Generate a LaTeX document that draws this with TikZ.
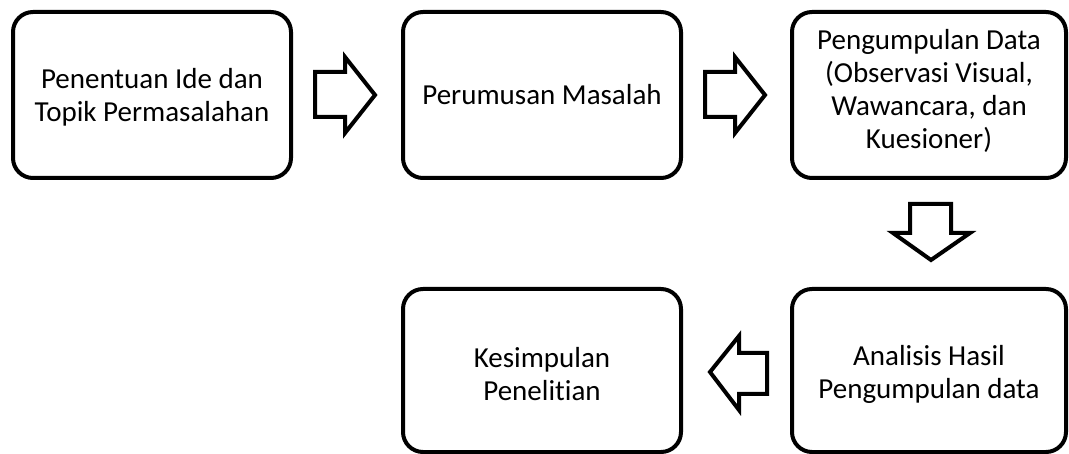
\documentclass[tikz,border=0pt]{standalone}
\usepackage{fontspec}
\setmainfont[Ligatures=NoCommon]{Carlito}
\begin{document}
\begin{tikzpicture}[x=1pt,y=-1pt,
  box/.style={draw=black, line width=4pt, rounded corners=20pt},
  blk/.style={draw=black, line width=4pt, fill=white, line join=miter},
  lbl/.style={align=center, font=\fontsize{29}{33}\selectfont, inner sep=0pt}]
\useasboundingbox (0,0) rectangle (1069,454);
% boxes
\draw[box] (13,12) rectangle (291,178);
\draw[box] (403,12) rectangle (681,178);
\draw[box] (792,12) rectangle (1066,178);
\draw[box] (792,289) rectangle (1066,452);
\draw[box] (403,289) rectangle (681,452);
% labels
\node[lbl] (b1) at (152,97) {Penentuan Ide dan\\Topik Permasalahan};
\node[lbl] (b2) at (542,95) {Perumusan Masalah};
\node[lbl] (b3) at (929,91) {Pengumpulan Data\\(Observasi Visual,\\Wawancara, dan\\Kuesioner)};
\node[lbl] (b4) at (929,374) {Analisis Hasil\\Pengumpulan data};
\node[lbl] (b5) at (542,374) {Kesimpulan\\Penelitian};
% block arrows
\draw[blk] (315,72) -- (345,72) -- (345,57) -- (375,95) -- (345,133) -- (345,117) -- (315,117) -- cycle;
\draw[blk] (705,72) -- (735,72) -- (735,57) -- (765,95) -- (735,133) -- (735,117) -- (705,117) -- cycle;
\draw[blk] (910,204) -- (951,204) -- (951,233) -- (970,233) -- (931,260) -- (893,233) -- (910,233) -- cycle;
\draw[blk] (767,353) -- (739,353) -- (739,336) -- (710,372) -- (739,410) -- (739,394) -- (767,394) -- cycle;
\end{tikzpicture}
\end{document}
